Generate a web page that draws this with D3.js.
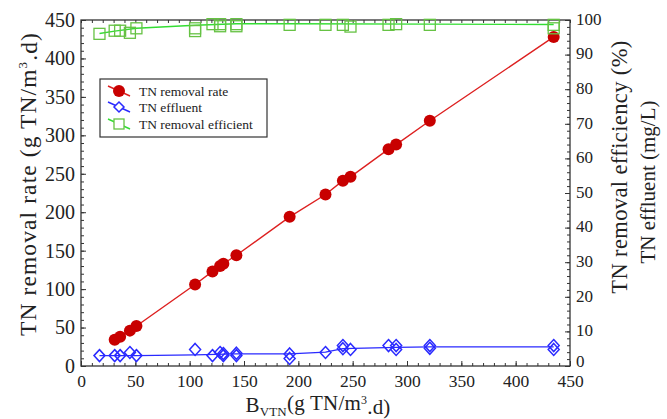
<!DOCTYPE html>
<html><head><meta charset="utf-8">
<script src="https://cdn.jsdelivr.net/npm/d3@7"></script>
<style>body{margin:0;background:#fff}svg{display:block}</style>
</head><body><svg id="c" width="667" height="419"></svg>
<script>
// ---- data ----
const rateX = [31,36,45,51,105,121,128,131,143,192,225,241,248,283,290,321,435];
const rateY = [34,38,46,52,106,123,130,133,144,194,223,241,246,282,288,319,428];
const effX = [17,31,36,45,51,105,121,128,131,131,143,143,192,192,225,241,241,248,283,290,290,321,321,435,435];
const effY = [3.0,3.0,3.0,3.9,3.0,4.8,3.0,3.9,3.6,3.0,3.7,3.0,3.5,2.2,3.9,5.9,5.0,4.8,5.9,5.9,4.8,5.9,5.1,5.9,4.8];
const effLineX = [17,51,105,143,192,225,241,290,321,435];
const effLineY = [3.0,3.0,3.2,3.5,3.5,4.0,5.0,5.4,5.5,5.5];
const effcX = [17,31,36,45,51,105,105,121,128,128,143,143,192,225,241,248,283,290,321,435,435];
const effcY = [96.0,96.9,96.9,96.3,97.6,97.6,96.8,98.8,98.8,98.2,98.8,98.2,98.6,98.6,98.6,98.1,98.6,98.8,98.6,98.6,97.6];
const effcLineX = [17,31,51,105,143,192,321,435];
const effcLineY = [96.1,96.8,97.6,98.5,98.9,98.9,98.8,98.7];
const xTicks = [0,50,100,150,200,250,300,350,400,450];
const yTicks = [0,50,100,150,200,250,300,350,400,450];
const y2Ticks = [0,10,20,30,40,50,60,70,80,90,100];
const legendLabels = ["TN removal rate","TN effluent","TN removal efficient"];

// ---- layout ----
const L=81, R=570, T=20, B=366;
const FF="'Liberation Serif', 'Times New Roman', serif";
const svg=d3.select("#c").style("font-family",FF);
const x=d3.scaleLinear().domain([0,450]).range([L,R]);
const y=d3.scaleLinear().domain([0,450]).range([B,T]);
const y2=d3.scaleLinear().domain([0,100]).range([B,T]);
const ax="#333";

function minor(step,max){return d3.range(0,max+0.001,step);}
svg.append("rect").attr("x",L).attr("y",T).attr("width",R-L).attr("height",B-T).attr("fill","none").attr("stroke",ax).attr("stroke-width",1.3);

const gb=svg.append("g").attr("transform",`translate(0,${B})`)
 .call(d3.axisBottom(x).tickValues(xTicks).tickSize(-5).tickPadding(9).tickFormat(d3.format("d")));
gb.append("g").call(d3.axisBottom(x).tickValues(minor(10,450)).tickSize(-3).tickFormat(""));
const gt=svg.append("g").attr("transform",`translate(0,${T})`)
 .call(d3.axisTop(x).tickValues(minor(10,450)).tickSize(-3).tickFormat(""));
const gl=svg.append("g").attr("transform",`translate(${L},0)`)
 .call(d3.axisLeft(y).tickValues(yTicks).tickSize(-5).tickPadding(6).tickFormat(d3.format("d")));
gl.append("g").call(d3.axisLeft(y).tickValues(minor(10,450)).tickSize(-3).tickFormat(""));
const gr=svg.append("g").attr("transform",`translate(${R},0)`)
 .call(d3.axisRight(y2).tickValues(y2Ticks).tickSize(-5).tickPadding(6).tickFormat(d3.format("d")));
gr.append("g").call(d3.axisRight(y2).tickValues(minor(2,100)).tickSize(-3).tickFormat(""));
[gb,gt,gl,gr].forEach(g=>{g.attr("font-family",null);g.selectAll("g").attr("font-family",null);g.selectAll(".domain").remove();g.selectAll("line").attr("stroke",ax);});
gb.selectAll("text").attr("font-size",17.5).attr("fill","#222");
gl.selectAll("text").attr("font-size",20).attr("fill","#222");
gr.selectAll("text").attr("font-size",17).attr("fill","#222").attr("dy","0.25em");
gr.selectAll(".tick text").filter(d=>d===0).attr("dy","0.05em");

function fit(t,target,maxFs){
  t.style("font-family",FF);
  const n=t.node(); let len=n.getComputedTextLength();
  const fs=+t.attr("font-size");
  if(len>0){
    let nfs=Math.min(maxFs,fs*target/len);
    t.attr("font-size",nfs); len=n.getComputedTextLength();
    const chars=n.textContent.length;
    const ls=(target-len)/Math.max(1,chars-1);
    t.style("letter-spacing",ls.toFixed(2)+"px");
  }
}
const lt=svg.append("text").attr("transform","translate(36,184) rotate(-90)").attr("text-anchor","middle").attr("font-size",21).attr("fill","#222");
lt.append("tspan").text("TN removal rate (g TN/m");
lt.append("tspan").text("3").attr("font-size",13).attr("dy","-0.7em");
lt.append("tspan").text(".d)").attr("dy","0.45em");
fit(lt,303,23.5);
const bt=svg.append("text").attr("x",318).attr("y",412).attr("text-anchor","middle").attr("font-size",20).attr("fill","#222");
bt.append("tspan").text("B");
bt.append("tspan").text("VTN").attr("font-size",13).attr("dy","0.3em");
bt.append("tspan").text("(g TN/m").attr("dy","-0.3em");
bt.append("tspan").text("3").attr("font-size",12).attr("dy","-0.5em");
bt.append("tspan").text(".d)").attr("dy","0.5em");
fit(bt,145,21);
const rt1=svg.append("text").attr("transform","translate(627,167) rotate(-90)").attr("text-anchor","middle").attr("font-size",19).attr("fill","#222").text("TN removal efficiency (%)");
fit(rt1,253,22.5);
const rt2=svg.append("text").attr("transform","translate(655,182) rotate(-90)").attr("text-anchor","middle").attr("font-size",19).attr("fill","#222").text("TN effluent (mg/L)");
fit(rt2,163,21.5);

const red="#c80000", redL="#dd2020", blue="#2a2aff", green="#66c244", greenL="#33dd33";
const line=d3.line();
const plot=svg.append("g");
plot.append("path").attr("d",line(rateX.map((d,i)=>[x(d),y(rateY[i])]))).attr("fill","none").attr("stroke",redL).attr("stroke-width",1.4);
plot.selectAll(".r").data(rateX).join("circle").attr("cx",d=>x(d)).attr("cy",(d,i)=>y(rateY[i])).attr("r",6).attr("fill",red);
plot.append("path").attr("d",line(effLineX.map((d,i)=>[x(d),y2(effLineY[i])]))).attr("fill","none").attr("stroke",blue).attr("stroke-width",1.3);
plot.selectAll(".b").data(effX).join("path").attr("transform",(d,i)=>`translate(${x(d)},${y2(effY[i])})`)
 .attr("d","M0,-6L5.5,0L0,6L-5.5,0Z").attr("fill","none").attr("stroke",blue).attr("stroke-width",1.5);
plot.append("path").attr("d",line(effcLineX.map((d,i)=>[x(d),y2(effcLineY[i])]))).attr("fill","none").attr("stroke",greenL).attr("stroke-width",1.4);
plot.selectAll(".g").data(effcX).join("rect").attr("x",d=>x(d)-5.5).attr("y",(d,i)=>y2(effcY[i])-5.5).attr("width",11).attr("height",11)
 .attr("fill","none").attr("stroke",green).attr("stroke-width",1.3);

const lg=svg.append("g");
lg.append("rect").attr("x",100).attr("y",79).attr("width",167).attr("height",58).attr("fill","#fff").attr("stroke","#333").attr("stroke-width",1.2);
const rows=[91,107,124];
const cols=[[redL,red],[blue,blue],[greenL,green]];
rows.forEach((ry,i)=>{
  lg.append("line").attr("x1",108).attr("y1",ry-5).attr("x2",130).attr("y2",ry+5).attr("stroke",cols[i][0]).attr("stroke-width",1.4);
  if(i===0) lg.append("circle").attr("cx",119).attr("cy",ry).attr("r",6).attr("fill",red);
  if(i===1) lg.append("path").attr("transform",`translate(119,${ry})`).attr("d","M0,-5L5,0L0,5L-5,0Z").attr("fill","#fff").attr("stroke",blue).attr("stroke-width",1.5);
  if(i===2) lg.append("rect").attr("x",114).attr("y",ry-5).attr("width",10).attr("height",10).attr("fill","#fff").attr("stroke",green).attr("stroke-width",1.3);
  lg.append("text").attr("x",139).attr("y",ry+4.5).attr("font-size",13.5).attr("fill","#222").text(legendLabels[i]);
});
svg.selectAll("text").style("font-family",FF);
</script></body></html>
